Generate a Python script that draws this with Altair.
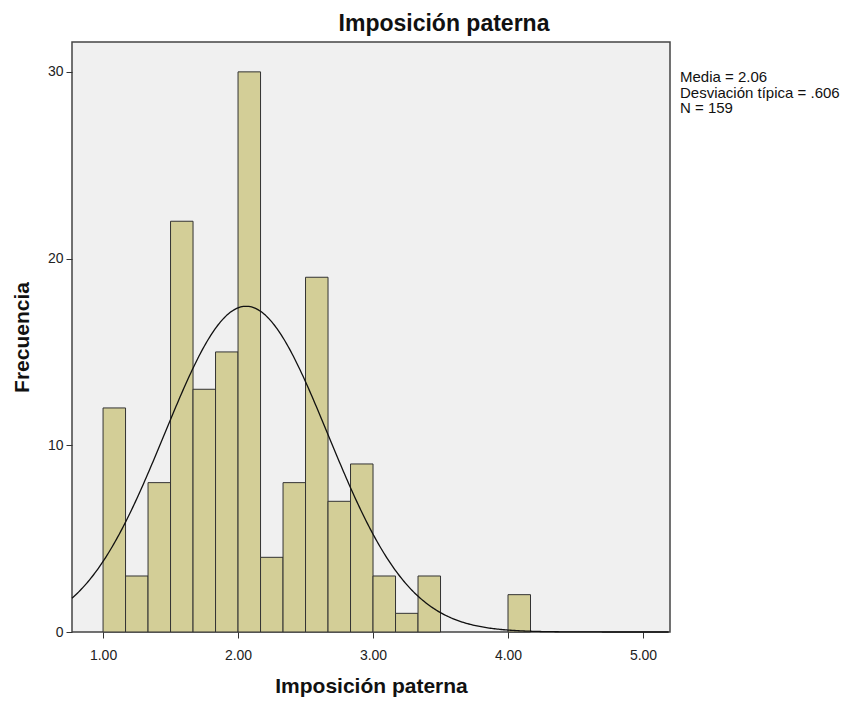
import altair as alt
import pandas as pd

# Histogram bins (width 1/6) starting at 1.00
bin_starts = [1 + i / 6 for i in range(20)]
counts = [12, 3, 8, 22, 13, 15, 30, 4, 8, 19, 7, 9, 3, 1, 3, 0, 0, 0, 2, 0]
x_ticks = [1, 2, 3, 4, 5]
y_ticks = [0, 10, 20, 30]
stats_lines = ["Media = 2.06", "Desviación típica = .606", "N = 159"]
mean, sd, n, bw = 2.06, 0.606, 159, 1 / 6

bars_df = pd.DataFrame({
    "start": bin_starts,
    "end": [s + 1 / 6 for s in bin_starts],
    "count": counts,
})
bars_df = bars_df[bars_df["count"] > 0]

FONT = "Liberation Sans"
xscale = alt.Scale(domain=[0.77, 5.2], nice=False, zero=False)
yscale = alt.Scale(domain=[0, 31.6], nice=False)

bars = alt.Chart(bars_df).mark_rect(
    fill="#d3ce97", stroke="#333333", strokeWidth=1
).encode(
    x=alt.X("start:Q", scale=xscale,
            axis=alt.Axis(values=x_ticks, format=".2f", title="Imposición paterna",
                          grid=False, domain=False, tickSize=6, tickColor="#333333",
                          labelFontSize=14, labelColor="#222222", labelPadding=10,
                          titleFontSize=21, titleFontWeight="bold", titlePadding=13,
                          labelFont=FONT, titleFont=FONT, titleColor="#111111")),
    x2="end:Q",
    y=alt.Y("count:Q", scale=yscale,
            axis=alt.Axis(values=y_ticks, title="Frecuencia", grid=False, domain=False,
                          tickSize=6, tickColor="#333333", labelFontSize=14,
                          labelColor="#222222", labelPadding=3,
                          titleFontSize=21, titleFontWeight="bold", titlePadding=15,
                          labelFont=FONT, titleFont=FONT, titleColor="#111111")),
    y2=alt.datum(0),
)

curve = alt.Chart(alt.sequence(0.77, 5.2, 0.01, as_="x")).transform_calculate(
    y=f"{n}*{bw}*exp(-0.5*pow((datum.x-{mean})/{sd},2))/({sd}*sqrt(2*PI))"
).mark_line(color="#111111", strokeWidth=1.3).encode(
    x=alt.X("x:Q", scale=xscale),
    y=alt.Y("y:Q", scale=yscale),
)

stats = alt.Chart(pd.DataFrame({"t": [stats_lines]})).mark_text(
    align="left", baseline="top", fontSize=15, font=FONT, color="#111111",
    lineHeight=15.5, clip=False
).encode(
    text="t",
    x=alt.value(608),
    y=alt.value(28),
)

chart = alt.layer(bars, curve, stats).properties(
    width=598, height=590,
    title=alt.TitleParams("Imposición paterna", fontSize=23, fontWeight="bold",
                          font=FONT, color="#111111", offset=6, dx=73),
    autosize=alt.AutoSizeParams(type="none"),
    padding={"left": 64, "top": 34, "right": 175, "bottom": 70},
    background="white",
).configure_view(
    fill="#f0f0f0", stroke="#444444", strokeWidth=1.5
)

chart.save("out.html", embed_options={"renderer": "svg", "actions": False})
